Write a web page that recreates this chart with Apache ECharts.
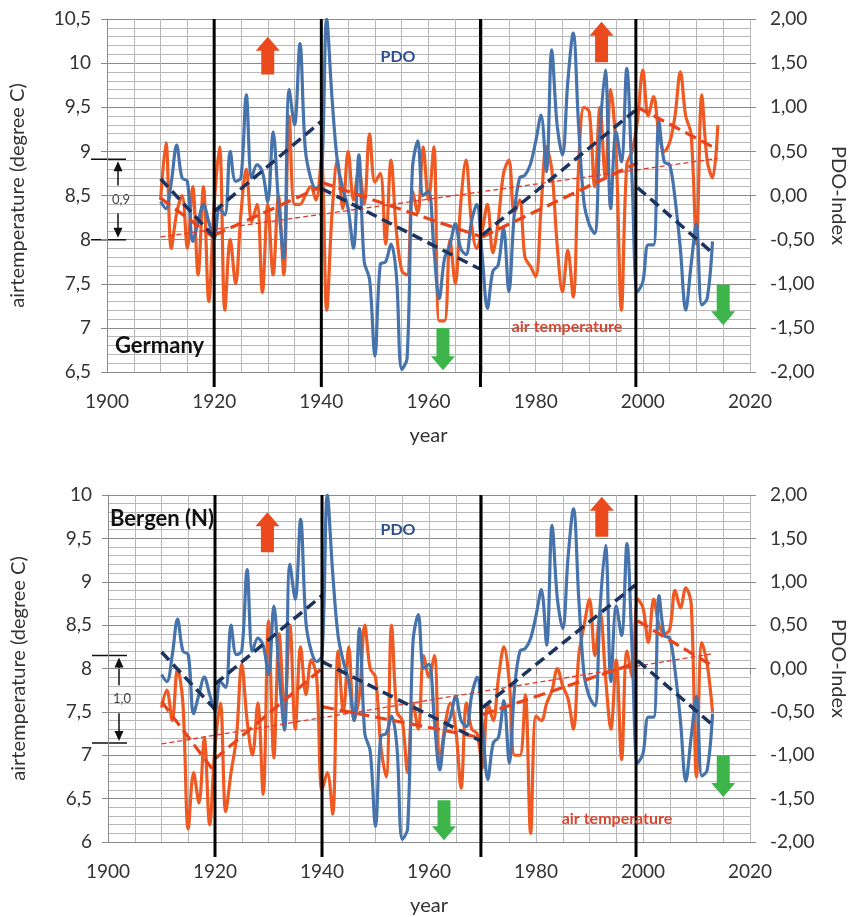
<!DOCTYPE html>
<html><head><meta charset="utf-8">
<script src="https://cdn.jsdelivr.net/npm/echarts@6/dist/echarts.min.js"></script>
<style>html,body{margin:0;padding:0;background:#fff;}#c{width:856px;height:917px;}</style>
</head><body><div id="c"></div>
<script>
// ---------------- DATA ----------------
const germanyYears = [1910,1911,1912,1913,1914,1915,1916,1917,1918,1919,1920,1921,1922,1923,1924,1925,1926,1927,1928,1929,1930,1931,1932,1933,1934,1935,1936,1937,1938,1939,1940,1941,1942,1943,1944,1945,1946,1947,1948,1949,1950,1951,1952,1953,1954,1955,1956,1957,1958,1959,1960,1961,1962,1963,1964,1965,1966,1967,1968,1969,1970,1971,1972,1973,1974,1975,1976,1977,1978,1979,1980,1981,1982,1983,1984,1985,1986,1987,1988,1989,1990,1991,1992,1993,1994,1995,1996,1997,1998,1999,2000,2001,2002,2003,2004,2005,2006,2007,2008,2009,2010,2011,2012,2013,2014];
const germanyTemp = [
 8.45,9.1,7.9,8.3,8.5,7.9,8.6,7.6,8.6,7.3,
 8.4,9.05,7.2,8.0,7.5,8.3,8.8,8.2,8.4,7.4,
 8.4,7.6,8.5,7.6,9.4,8.4,8.4,8.5,8.6,8.45,
 8.9,7.2,8.3,8.9,8.35,9.0,8.45,8.8,8.4,9.2,
 8.65,8.75,7.95,8.9,8.1,7.65,7.6,8.55,8.3,9.05,
 8.45,9.05,7.08,7.08,8.0,7.5,8.4,8.9,8.2,7.9,
 8.1,8.4,7.85,8.2,8.75,8.9,8.3,8.45,7.8,7.7,
 7.58,8.35,9.05,8.8,7.95,7.41,7.88,7.35,8.8,9.5,
 9.45,8.6,9.5,8.7,9.7,9.0,7.2,8.85,9.0,9.35,
 9.92,9.4,9.62,9.2,9.0,9.1,9.4,9.9,9.4,9.2,
 7.95,9.64,8.9,8.7,9.3];

const pdoYears = [1910,1911,1912,1913,1914,1915,1916,1917,1918,1919,1920,1921,1922,1923,1924,1925,1926,1927,1928,1929,1930,1931,1932,1933,1934,1935,1936,1937,1938,1939,1940,1941,1942,1943,1944,1945,1946,1947,1948,1949,1950,1951,1952,1953,1954,1955,1956,1957,1958,1959,1960,1961,1962,1963,1964,1965,1966,1967,1968,1969,1970,1971,1972,1973,1974,1975,1976,1977,1978,1979,1980,1981,1982,1983,1984,1985,1986,1987,1988,1989,1990,1991,1992,1993,1994,1995,1996,1997,1998,1999,2000,2001,2002,2003,2004,2005,2006,2007,2008,2009,2010,2011,2012,2013];
const pdoIndex = [
 -0.07,-0.15,0.15,0.57,0.2,0.16,-0.52,-0.3,-0.1,-0.3,
 -0.49,-0.15,-0.22,0.5,0.16,0.2,1.14,0.2,0.35,0.27,
 -0.07,0.72,-0.07,-0.71,1.2,0.8,1.72,0.53,0.2,0.08,
 0.15,2.0,1.1,0.38,0.08,-0.15,-0.6,0.46,-0.75,-0.95,
 -1.82,-0.78,-0.75,-0.55,-0.9,-1.97,-1.85,0.3,0.62,0.0,
 0.05,-0.6,-1.17,-0.71,-0.56,-0.32,-0.6,-0.67,-0.3,-0.1,
 -0.67,-1.28,-0.86,-0.79,-0.37,-1.09,-0.22,0.2,0.23,0.35,
 0.61,0.91,0.27,1.65,0.8,0.46,1.29,1.84,0.8,-0.07,
 -0.33,-0.43,0.72,1.42,-0.15,0.72,0.38,1.44,0.16,-1.09,
 -0.98,-0.56,-0.56,0.84,0.38,0.35,-0.03,-0.6,-1.3,-0.79,
 -0.32,-1.24,-1.17,-0.52];

const bergenYears = [1910,1911,1912,1913,1914,1915,1916,1917,1918,1919,1920,1921,1922,1923,1924,1925,1926,1927,1928,1929,1930,1931,1932,1933,1934,1935,1936,1937,1938,1939,1940,1941,1942,1943,1944,1945,1946,1947,1948,1949,1950,1951,1952,1953,1954,1955,1956,1957,1958,1959,1960,1961,1962,1963,1964,1965,1966,1967,1968,1969,1970,1971,1972,1973,1974,1975,1976,1977,1978,1979,1980,1981,1982,1983,1984,1985,1986,1987,1988,1989,1990,1991,1992,1993,1994,1995,1996,1997,1998,1999,2000,2001,2002,2003,2004,2005,2006,2007,2008,2009,2010,2011,2012,2013];
const bergenTemp = [
 7.55,7.75,7.4,8.0,7.6,6.15,6.8,6.45,7.2,6.2,
 7.1,7.6,6.35,6.8,7.2,8.05,7.4,7.0,7.6,6.55,
 8.55,6.97,8.4,7.5,8.5,7.3,8.25,7.7,8.1,7.9,
 6.6,6.8,6.32,8.2,7.5,8.25,7.4,7.7,8.5,8.0,
 7.9,7.1,6.75,8.5,7.5,7.4,6.8,7.6,7.3,8.15,
 7.9,8.15,6.9,7.35,7.6,7.3,6.62,7.6,7.3,7.25,
 6.85,7.6,7.4,7.9,8.25,7.85,7.0,7.0,7.7,6.1,
 7.45,7.4,7.6,7.75,8.0,7.8,7.65,7.3,8.15,8.5,
 8.8,8.15,8.65,7.9,7.3,8.1,6.95,8.2,7.9,8.8,
 8.7,8.3,8.8,8.5,8.4,8.45,8.9,8.7,8.93,8.75,
 6.75,8.3,8.05,7.5];

// trend lines (piecewise, per regime)
const pdoTrendSegments = [
 [[1910,0.19],[1920,-0.47]],
 [[1920,-0.18],[1940,0.84]],
 [[1940,0.08],[1969.5,-0.83]],
 [[1970,-0.45],[1998.5,0.96]],
 [[1999,0.09],[2013,-0.65]]
];
const germanyTrendSegments = [
 [[1910,8.47],[1920,8.02]],
 [[1920,8.05],[1940,8.6]],
 [[1940,8.65],[1970,8.03]],
 [[1970,8.03],[1999,8.87]],
 [[1999,9.5],[2014,9.02]]
];
const germanyOverallTrend = [[1910,8.03],[2014,8.92]];
const bergenTrendSegments = [
 [[1910,7.62],[1920,6.8]],
 [[1920,6.96],[1940,8.0]],
 [[1940,7.56],[1970,7.2]],
 [[1970,7.47],[1999,8.07]],
 [[1999,8.55],[2013,8.03]]
];
const bergenOverallTrend = [[1910,7.13],[2013,8.17]];

const regimeShiftYears = [1920, 1940, 1969.7, 1998.7];
const xTickLabels = [1900, 1920, 1940, 1960, 1980, 2000, 2020];

// ---------------- STYLE / LAYOUT ----------------
const FONT = 'Lato, "Open Sans", sans-serif';
const COL = {
  temp:'#EF5A22', pdo:'#4673AC', pdoTrend:'#1B3560', tempTrend:'#E8431B', thin:'#E0392B',
  minor:'#B8B8B8', major:'#8A8A8A', axis:'#8A8A8A', label:'#333333', up:'#EB4A1C', down:'#3DB54A'
};

const panels = [
 { grid:{left:107, top:19, width:645, height:353}, tMin:6.5, tMax:10.5,
   years:germanyYears, temp:germanyTemp, trends:germanyTrendSegments, overall:germanyOverallTrend,
   arrows:[[1930,10.30,9.87,1],[1992.3,10.47,10.01,1],[1962.7,7.0,6.52,-1],[2015,7.49,7.03,-1]],
   bracket:[8.91,8.0], bracketLabel:'0,9',
   station:'Germany', stationPos:[115,346], pdoPos:[398,57], airPos:[567,327] },
 { grid:{left:108, top:495, width:645, height:347}, tMin:6, tMax:10,
   years:bergenYears, temp:bergenTemp, trends:bergenTrendSegments, overall:bergenOverallTrend,
   arrows:[[1929.8,9.80,9.34,1],[1992.3,9.98,9.52,1],[1962.8,6.48,6.02,-1],[2015,7.0,6.52,-1]],
   bracket:[8.15,7.14], bracketLabel:'1,0',
   station:'Bergen (N)', stationPos:[110,519], pdoPos:[398,530], airPos:[617,819] }
];

const fmtT = v => String(Math.round(v*10)/10).replace('.', ',');
const fmtP = v => v.toFixed(2).replace('.', ',');

const grids=[], xAxes=[], yAxes=[], series=[];
panels.forEach((p,i)=>{
  grids.push(Object.assign({containLabel:false}, p.grid));
  xAxes.push({
    type:'value', gridIndex:i, min:1900, max:2020, interval:20,
    axisLine:{show:true, lineStyle:{color:COL.axis, width:1}},
    axisTick:{show:true, length:6, lineStyle:{color:COL.axis}},
    axisLabel:{fontSize:19, color:COL.label, fontFamily:FONT, margin:20,
      formatter: v => xTickLabels.includes(v) ? String(v) : ''},
    splitLine:{show:true, lineStyle:{color:COL.minor, width:1}},
    minorTick:{show:false, splitNumber:4},
    minorSplitLine:{show:true, lineStyle:{color:COL.minor, width:1}},
    name:'year', nameLocation:'middle', nameGap:54,
    nameTextStyle:{fontSize:20, color:COL.label, fontFamily:FONT}
  });
  yAxes.push({
    type:'value', gridIndex:i, position:'left', min:p.tMin, max:p.tMax, interval:0.5,
    axisLine:{show:true, lineStyle:{color:COL.axis}},
    axisTick:{show:true, length:6, lineStyle:{color:COL.axis}},
    axisLabel:{fontSize:19, color:COL.label, fontFamily:FONT, margin:16, formatter:fmtT},
    splitLine:{show:true, lineStyle:{color:COL.major, width:1}},
    minorTick:{show:false, splitNumber:5},
    minorSplitLine:{show:true, lineStyle:{color:COL.minor, width:1}},
    name:'airtemperature (degree C)', nameLocation:'middle', nameGap:79, nameRotate:90,
    nameTextStyle:{fontSize:20, color:COL.label, fontFamily:FONT}
  });
  yAxes.push({
    type:'value', gridIndex:i, position:'right', min:-2, max:2, interval:0.5,
    axisLine:{show:false}, axisTick:{show:true, length:6, lineStyle:{color:COL.axis}},
    axisLabel:{fontSize:19, color:COL.label, fontFamily:FONT, margin:20, formatter:fmtP},
    splitLine:{show:false},
    name:'PDO-Index', nameLocation:'middle', nameGap:78, nameRotate:-90,
    nameTextStyle:{fontSize:20, color:COL.label, fontFamily:FONT}
  });
  const yl = 2*i, yr = 2*i+1;
  series.push({type:'line', xAxisIndex:i, yAxisIndex:yl, data:p.years.map((y,k)=>[y,p.temp[k]]),
    smooth:0.35, symbol:'none', showSymbol:false, lineStyle:{color:COL.temp, width:3.2}, z:3});
  series.push({type:'line', xAxisIndex:i, yAxisIndex:yr, data:pdoYears.map((y,k)=>[y,pdoIndex[k]]),
    smooth:0.35, symbol:'none', showSymbol:false, lineStyle:{color:COL.pdo, width:3.2}, z:4});
  series.push({type:'line', xAxisIndex:i, yAxisIndex:yl, data:p.overall, symbol:'none', showSymbol:false,
    lineStyle:{color:COL.thin, width:1.3, type:[5,3]}, z:5});
  p.trends.forEach(seg=>series.push({type:'line', xAxisIndex:i, yAxisIndex:yl, data:seg, symbol:'none', showSymbol:false,
    lineStyle:{color:COL.tempTrend, width:3.2, type:[12,6]}, z:6}));
  pdoTrendSegments.forEach(seg=>series.push({type:'line', xAxisIndex:i, yAxisIndex:yr, data:seg, symbol:'none', showSymbol:false,
    lineStyle:{color:COL.pdoTrend, width:3.5, type:[11,6]}, z:7}));
  series.push({type:'custom', xAxisIndex:i, yAxisIndex:yl, clip:false, z:8,
    data: regimeShiftYears.map(x=>[x, p.tMin]),
    renderItem:(params, api)=>{
      const x = api.value(0);
      const a = api.coord([x, p.tMax]), b = api.coord([x, p.tMin]);
      return {type:'line', shape:{x1:a[0], y1:a[1], x2:b[0], y2:b[1]+15}, style:{stroke:'#000', lineWidth:3}};
    }});
  series.push({type:'custom', xAxisIndex:i, yAxisIndex:yl, clip:false, z:9,
    data: p.arrows,
    renderItem:(params, api)=>{
      const x = api.value(0);
      const t = api.coord([x, api.value(1)]), b = api.coord([x, api.value(2)]);
      const up = api.value(3) > 0;
      const cx = t[0], top = t[1], bot = b[1], hw = 12, sw = 6.5, hh = 14;
      const pts = up
        ? [[cx,top],[cx+hw,top+hh],[cx+sw,top+hh],[cx+sw,bot],[cx-sw,bot],[cx-sw,top+hh],[cx-hw,top+hh]]
        : [[cx,bot],[cx+hw,bot-hh],[cx+sw,bot-hh],[cx+sw,top],[cx-sw,top],[cx-sw,bot-hh],[cx-hw,bot-hh]];
      return {type:'polygon', shape:{points:pts}, style:{fill: up ? COL.up : COL.down}};
    }});
});

const chart = echarts.init(document.getElementById('c'));
chart.setOption({
  animation:false, backgroundColor:'#fff',
  grid:grids, xAxis:xAxes, yAxis:yAxes, series:series
});

// annotations (text + bracket) positioned through the axes
const gfx = [];
panels.forEach((p,i)=>{
  const yTop = chart.convertToPixel({yAxisIndex:2*i}, p.bracket[0]);
  const yBot = chart.convertToPixel({yAxisIndex:2*i}, p.bracket[1]);
  const L = p.grid.left;
  const x0 = L - 16, x1 = L + 19, xa = L + 11, mid = (yTop + yBot) / 2;
  gfx.push({type:'line', shape:{x1:x0,y1:yTop,x2:x1,y2:yTop}, style:{stroke:'#111', lineWidth:1.5}});
  gfx.push({type:'line', shape:{x1:x0,y1:yBot,x2:x1,y2:yBot}, style:{stroke:'#111', lineWidth:1.5}});
  gfx.push({type:'line', shape:{x1:xa,y1:mid-14,x2:xa,y2:yTop+8}, style:{stroke:'#111', lineWidth:1.5}});
  gfx.push({type:'polygon', shape:{points:[[xa,yTop+2],[xa-4.5,yTop+12],[xa+4.5,yTop+12]]}, style:{fill:'#111'}});
  gfx.push({type:'line', shape:{x1:xa,y1:mid+14,x2:xa,y2:yBot-8}, style:{stroke:'#111', lineWidth:1.5}});
  gfx.push({type:'polygon', shape:{points:[[xa,yBot-2],[xa-4.5,yBot-12],[xa+4.5,yBot-12]]}, style:{fill:'#111'}});
  gfx.push({type:'text', x:xa+3, y:mid, style:{text:p.bracketLabel, font:'13px '+FONT, fill:'#444', align:'center', verticalAlign:'middle'}});
  gfx.push({type:'text', x:p.stationPos[0], y:p.stationPos[1], z:20, style:{text:p.station, font:'bold 22px '+FONT, fill:'#111', align:'left', verticalAlign:'middle'}});
  gfx.push({type:'text', x:p.pdoPos[0], y:p.pdoPos[1], z:20, style:{text:'PDO', font:'bold 16px '+FONT, fill:'#2F4F8A', align:'center', verticalAlign:'middle'}});
  gfx.push({type:'text', x:p.airPos[0], y:p.airPos[1], z:20, style:{text:'air temperature', font:'bold 16px '+FONT, fill:'#D9452F', align:'center', verticalAlign:'middle'}});
});
chart.setOption({graphic:gfx});
</script>
</body></html>
